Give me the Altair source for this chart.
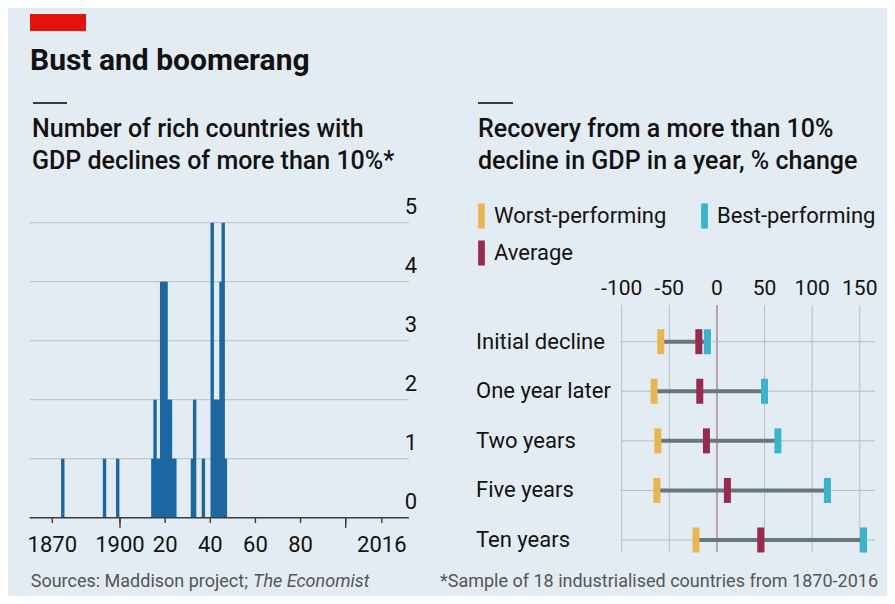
import altair as alt
import pandas as pd

# ---------------- data ----------------
years = [1872, 1891, 1897, 1913, 1914, 1915, 1916, 1917, 1918, 1919, 1920, 1921, 1922, 1923,
         1931, 1932, 1936, 1940, 1941, 1942, 1943, 1944, 1945, 1946]
counts = [1, 1, 1, 1, 2, 1, 1, 4, 4, 4, 2, 2, 1, 1,
          1, 2, 1, 5, 2, 2, 2, 4, 5, 1]

year_ticks = [1870, 1900, 1920, 1940, 1960, 1980, 2000, 2016]
year_tick_labels = ["1870", "1900", "20", "40", "60", "80", "", "2016"]
long_year_ticks = [1900, 2000]
count_ticks = [0, 1, 2, 3, 4, 5]

stages = ["Initial decline", "One year later", "Two years", "Five years", "Ten years"]
worst = [-59, -66, -62, -63, -22]
average = [-19, -18, -11, 11, 46]
best = [-10, 50, 64, 116, 154]
change_ticks = [-100, -50, 0, 50, 100, 150]

# legend order (filled column by column): Worst, Average | Best
series = ["Worst-performing", "Average", "Best-performing"]
series_colors = ["#e8b64c", "#9a2a4c", "#38b4cd"]

# ---------------- styling ----------------
FONT = "Roboto"
BG = "#e4ecf3"
GRID = "#b6bfc6"
TXT = "#121212"

# ---------------- tables ----------------
bars_df = pd.DataFrame({"year": years, "count": counts})
yt_df = pd.DataFrame({"year": year_ticks, "label": year_tick_labels})
ylong_df = pd.DataFrame({"year": long_year_ticks})
ct_df = pd.DataFrame({"v": count_ticks, "label": [str(v) for v in count_ticks]})
range_df = pd.DataFrame({"stage": stages, "worst": worst, "best": best})
ticks_df = pd.concat([
    pd.DataFrame({"stage": stages, "value": worst, "series": "Worst-performing"}),
    pd.DataFrame({"stage": stages, "value": best, "series": "Best-performing"}),
    pd.DataFrame({"stage": stages, "value": average, "series": "Average"}),
], ignore_index=True)
chg_df = pd.DataFrame({"v": change_ticks, "label": [str(v) for v in change_ticks]})
one = pd.DataFrame({"_": [0]})

# ---------------- scales (pixel ranges inside one canvas) ----------------
xl = alt.Scale(domain=[1860, 2028], range=[21.7, 400.9], nice=False, zero=False)
yl = alt.Scale(domain=[0, 5], range=[509.7, 214.7], nice=False, zero=False)
xr = alt.Scale(domain=[-100, 166], range=[613.7, 867], nice=False, zero=False)
yr = alt.Scale(type="point", domain=stages, range=[333.7, 532], padding=0)

layers = []

# ---- header ----
layers.append(alt.Chart(one).mark_rect(color="#e3120b").encode(
    x=alt.value(22), x2=alt.value(78), y=alt.value(6), y2=alt.value(23)))
layers.append(alt.Chart(one).mark_text(font=FONT, fontSize=30, fontWeight="bold", color=TXT,
                                       align="left", baseline="alphabetic").encode(
    x=alt.value(22), y=alt.value(62), text=alt.value("Bust and boomerang")))
for xa, xb in [(25, 59), (470, 505)]:
    layers.append(alt.Chart(one).mark_rule(color="#3a3a3a", strokeWidth=2).encode(
        x=alt.value(xa), x2=alt.value(xb), y=alt.value(95)))
for xx, l1, l2 in [(24, "Number of rich countries with", "GDP declines of more than 10%*"),
                   (470, "Recovery from a more than 10%", "decline in GDP in a year, % change")]:
    for yy, t in [(129, l1), (161, l2)]:
        layers.append(alt.Chart(one).mark_text(font=FONT, fontSize=25, fontWeight=500, color=TXT,
                                               align="left", baseline="alphabetic").encode(
            x=alt.value(xx), y=alt.value(yy), text=alt.value(t)))

# ---- left panel ----
layers.append(alt.Chart(ct_df).transform_filter("datum.v > 0").mark_rule(color=GRID, strokeWidth=1).encode(
    y=alt.Y("v:Q", scale=yl, axis=None), x=alt.value(21.7), x2=alt.value(400.9)))
layers.append(alt.Chart(bars_df).mark_bar(color="#1b67a2", size=3.4, xOffset=1.7).encode(
    x=alt.X("year:Q", scale=xl, axis=None),
    y=alt.Y("count:Q", scale=yl, axis=None, stack=None)))
layers.append(alt.Chart(ct_df).transform_filter("datum.v == 0").mark_rule(color="#3c3c3c", strokeWidth=1.6).encode(
    y=alt.Y("v:Q", scale=yl, axis=None), x=alt.value(21.7), x2=alt.value(400.9)))
layers.append(alt.Chart(yt_df).mark_rule(color="#3c3c3c", strokeWidth=1.4).encode(
    x=alt.X("year:Q", scale=xl, axis=None), y=alt.value(509.7), y2=alt.value(515)))
layers.append(alt.Chart(ylong_df).mark_rule(color="#3c3c3c", strokeWidth=1.4).encode(
    x=alt.X("year:Q", scale=xl, axis=None), y=alt.value(509.7), y2=alt.value(520)))
layers.append(alt.Chart(yt_df).mark_text(font=FONT, fontSize=22, color=TXT, align="center",
                                         baseline="middle").encode(
    x=alt.X("year:Q", scale=xl, axis=None), y=alt.value(537), text="label:N"))
layers.append(alt.Chart(ct_df).mark_text(font=FONT, fontSize=22, color=TXT, align="right",
                                         baseline="bottom", dy=-4).encode(
    y=alt.Y("v:Q", scale=yl, axis=None), x=alt.value(409), text="label:N"))

# ---- right panel ----
layers.append(alt.Chart(chg_df).transform_filter("datum.v != 0").mark_rule(color=GRID, strokeWidth=1).encode(
    x=alt.X("v:Q", scale=xr, axis=None), y=alt.value(297), y2=alt.value(544)))
layers.append(alt.Chart(chg_df).transform_filter("datum.v == 0").mark_rule(color="#a8939b", strokeWidth=1.6).encode(
    x=alt.X("v:Q", scale=xr, axis=None), y=alt.value(297), y2=alt.value(544)))
layers.append(alt.Chart(range_df).mark_rule(color=GRID, strokeWidth=1).encode(
    y=alt.Y("stage:N", scale=yr, axis=None), x=alt.value(613.7), x2=alt.value(867)))
layers.append(alt.Chart(range_df).mark_rule(color="#66777f", strokeWidth=4).encode(
    y=alt.Y("stage:N", scale=yr, axis=None),
    x=alt.X("worst:Q", scale=xr, axis=None), x2="best:Q"))
layers.append(alt.Chart(ticks_df).mark_tick(thickness=7, size=25, opacity=1).encode(
    y=alt.Y("stage:N", scale=yr, axis=None),
    x=alt.X("value:Q", scale=xr, axis=None),
    color=alt.Color("series:N", scale=alt.Scale(domain=series, range=series_colors),
                    legend=alt.Legend(orient="none", legendX=461, legendY=195.5, title=None,
                                      columns=2, symbolType="M-0.27,-1H0.27V1H-0.27Z",
                                      symbolSize=625, symbolStrokeWidth=0, symbolOpacity=1,
                                      labelFont=FONT, labelFontSize=22, labelColor=TXT,
                                      labelLimit=400, labelOffset=0, columnPadding=25,
                                      rowPadding=12, padding=0))))
layers.append(alt.Chart(chg_df).mark_text(font=FONT, fontSize=21, color=TXT, align="center",
                                          baseline="middle").encode(
    x=alt.X("v:Q", scale=xr, axis=None), y=alt.value(281), text="label:N"))
layers.append(alt.Chart(range_df).mark_text(font=FONT, fontSize=22, color=TXT, align="left",
                                            baseline="middle").encode(
    y=alt.Y("stage:N", scale=yr, axis=None), x=alt.value(468), text="stage:N"))

# ---- footer ----
layers.append(alt.Chart(one).mark_text(font=FONT, fontSize=18, color="#555555", align="right",
                                       baseline="middle").encode(
    x=alt.value(240), y=alt.value(574), text=alt.value("Sources: Maddison project;")))
layers.append(alt.Chart(one).mark_text(font=FONT, fontSize=18, color="#555555", align="left",
                                       baseline="middle", fontStyle="italic").encode(
    x=alt.value(245), y=alt.value(574), text=alt.value("The Economist")))
layers.append(alt.Chart(one).mark_text(font=FONT, fontSize=18, color="#555555", align="right",
                                       baseline="middle").encode(
    x=alt.value(870), y=alt.value(574),
    text=alt.value("*Sample of 18 industrialised countries from 1870-2016")))

chart = alt.layer(*layers).resolve_scale(
    x="independent", y="independent", color="independent"
).properties(
    width=879, height=588, background=BG, padding=0,
    autosize=alt.AutoSizeParams(type="none")
).configure_view(stroke=None)

chart.save("out.html", embed_options={"renderer": "svg", "actions": False})
